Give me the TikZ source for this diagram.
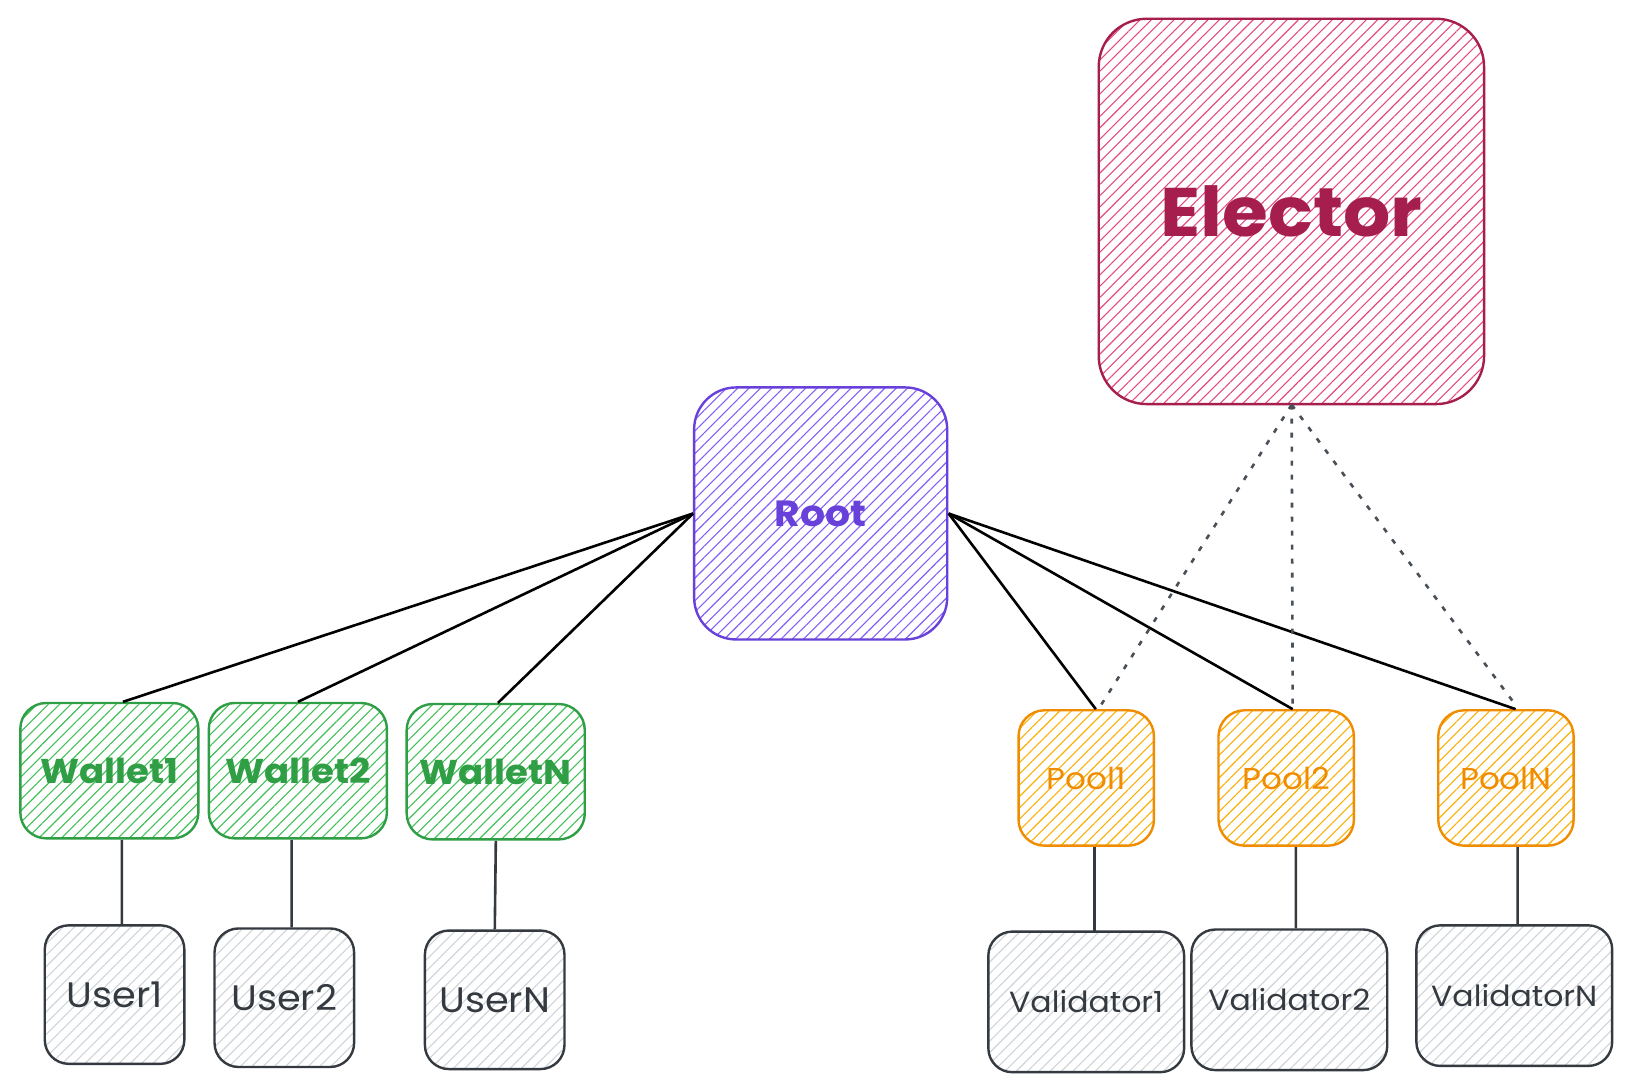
\documentclass[tikz,border=0pt]{standalone}
\usepackage{fontspec}
\setmainfont{Poppins}[FakeStretch=1.08]
\usetikzlibrary{patterns.meta,calc}
\definecolor{elS}{HTML}{A61E4D}\definecolor{elH}{HTML}{E64980}
\definecolor{rtS}{HTML}{6741D9}\definecolor{rtH}{HTML}{845EF7}
\definecolor{wlS}{HTML}{2F9E44}\definecolor{wlH}{HTML}{40C057}
\definecolor{plS}{HTML}{F08C00}\definecolor{plH}{HTML}{FAB005}
\definecolor{gyS}{HTML}{343A40}\definecolor{gyH}{HTML}{CED4DA}
\definecolor{dashC}{HTML}{495057}
\tikzset{
  hbox/.style n args={2}{draw=#1, text=#1, line width=2.4pt, inner sep=0pt,
     pattern={Lines[angle=45,distance=8pt,line width=1.1pt]}, pattern color=#2},
  elbox/.style={hbox={elS}{elH}, rounded corners=48pt, minimum width=370pt, minimum height=370pt, font=\fontsize{66}{70}\selectfont\bfseries},
  rtbox/.style={hbox={rtS}{rtH}, rounded corners=42pt, minimum width=243pt, minimum height=242pt, font=\fontsize{35}{40}\selectfont\bfseries},
  wlbox/.style={hbox={wlS}{wlH}, rounded corners=26pt, minimum width=171pt, minimum height=130pt, font=\fontsize{33}{38}\selectfont\bfseries},
  plbox/.style={hbox={plS}{plH}, rounded corners=26pt, minimum width=130pt, minimum height=130pt, font=\fontsize{29}{32}\selectfont},
  usbox/.style={hbox={gyS}{gyH}, rounded corners=24pt, minimum width=134pt, minimum height=133pt, font=\fontsize{34}{38}\selectfont},
  vlbox/.style={hbox={gyS}{gyH}, rounded corners=24pt, minimum width=188pt, minimum height=135pt, font=\fontsize{28}{32}\selectfont},
  link/.style={draw=black, line width=2.6pt},
  vlink/.style={draw=gyS, line width=2.6pt},
  elink/.style={draw=dashC, line width=2.6pt, dash pattern=on 5pt off 9pt}
}
\begin{document}
\begin{tikzpicture}[x=1pt,y=-1pt,scale=1.0415,every node/.append style={transform shape}]
\useasboundingbox (0,0) rectangle (1568,1048.5);
\fill[white] (0,0) rectangle (1568,1048.5);
% nodes
\node[elbox] (el) at (1240,203) {Elector};
\node[rtbox] (rt) at (788,493) {Root};
\node[wlbox] (w1) at (105,740) {Wallet1};
\node[wlbox] (w2) at (286,740) {Wallet2};
\node[wlbox] (wn) at (476,741) {WalletN};
\node[usbox] (u1) at (110,955) {User1};
\node[usbox] (u2) at (273,958) {User2};
\node[usbox] (un) at (475,960) {UserN};
\node[plbox] (p1) at (1043,747) {Pool1};
\node[plbox] (p2) at (1235,747) {Pool2};
\node[plbox] (pn) at (1446,747) {PoolN};
\node[vlbox] (v1) at (1043,962) {Validator1};
\node[vlbox] (v2) at (1238,960) {Validator2};
\node[vlbox] (vn) at (1454,956) {ValidatorN};
% root links
\draw[link] (rt.west) -- ($(w1.north)+(13,0)$);
\draw[link] (rt.west) -- (w2.north);
\draw[link] (rt.west) -- ($(wn.north)+(2,0)$);
\draw[link] (rt.east) -- ($(p1.north)+(9,0)$);
\draw[link] (rt.east) -- ($(p2.north)+(6,0)$);
\draw[link] (rt.east) -- ($(pn.north)+(9,0)$);
% elector links
\draw[elink] (el.south) -- ($(p1.north)+(14,-4)$);
\draw[elink] (el.south) -- ($(p2.north)+(6,-4)$);
\draw[elink] (el.south) -- ($(pn.north)+(6,-8)$);
% verticals
\draw[vlink] ($(w1.south)+(12,0)$) -- ($(u1.north)+(7,0)$);
\draw[vlink] ($(w2.south)+(-6,0)$) -- ($(u2.north)+(7,0)$);
\draw[vlink] (wn.south) -- (un.north);
\draw[vlink] ($(p1.south)+(8,0)$) -- ($(v1.north)+(8,0)$);
\draw[vlink] ($(p2.south)+(9,0)$) -- ($(v2.north)+(6,0)$);
\draw[vlink] ($(pn.south)+(11,0)$) -- ($(vn.north)+(3,0)$);
\end{tikzpicture}
\end{document}
